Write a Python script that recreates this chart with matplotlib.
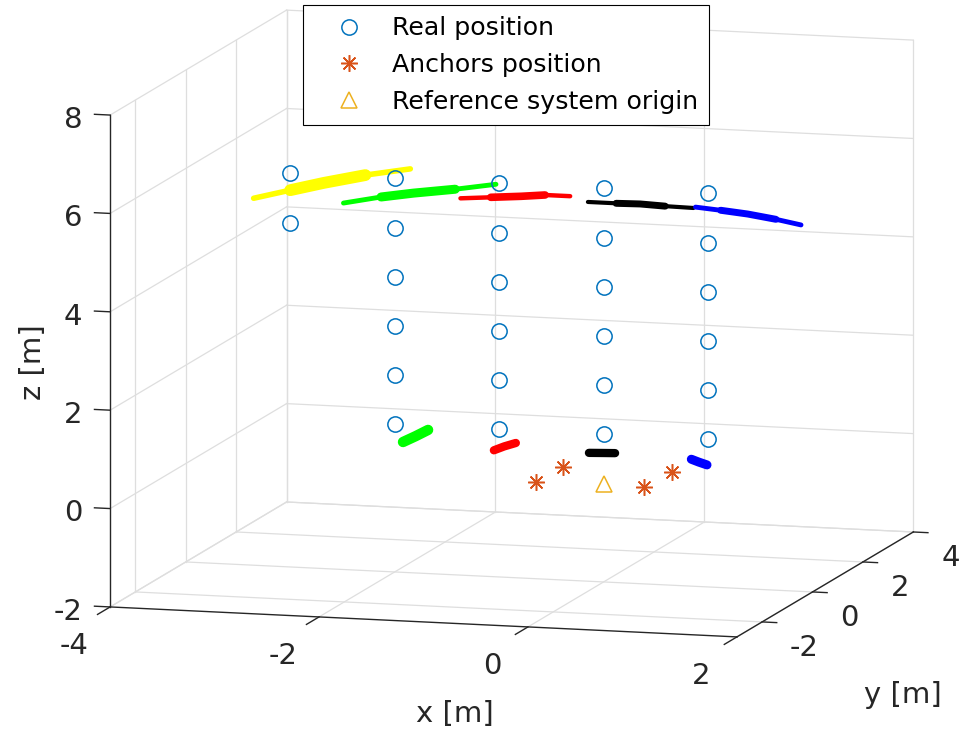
import matplotlib
matplotlib.use("Agg")
import matplotlib.pyplot as plt
import numpy as np
from matplotlib.lines import Line2D

plt.rcParams["font.family"] = ["DejaVu Sans"]

# ---------------------------------------------------------------------------
# Data (metres)
# ---------------------------------------------------------------------------
x_lim = (-4, 2)
y_lim = (-3, 4)
z_lim = (-2, 8)
x_ticks = [-4, -2, 0, 2]
y_ticks = [-2, 0, 2, 4]
z_ticks = [-2, 0, 2, 4, 6, 8]

# real (reference) tag positions, all in the plane y = 0
real_x = [-3, -3,
          -2, -2, -2, -2, -2, -2,
          -1, -1, -1, -1, -1, -1,
          0, 0, 0, 0, 0, 0,
          1, 1, 1, 1, 1, 1]
real_y = [0] * 26
real_z = [5, 6,
          1, 2, 3, 4, 5, 6,
          1, 2, 3, 4, 5, 6,
          1, 2, 3, 4, 5, 6,
          1, 2, 3, 4, 5, 6]

anchor_x = [-0.62, -0.61, 0.41, 0.44]
anchor_y = [-0.11, 0.90, -0.10, 0.91]
anchor_z = [0.0, 0.0, 0.0, 0.0]

origin_x = [0.0]
origin_y = [0.0]
origin_z = [0.0]

# estimated tracks (centre line of each cloud, plane y = 0)
yellow_top_x = [-3.35, -3.00, -2.68, -2.28, -1.85]
yellow_top_z = [5.46, 5.66, 5.84, 6.04, 6.21]
green_top_x = [-2.49, -2.13, -1.82, -1.42, -1.03]
green_top_z = [5.45, 5.61, 5.72, 5.84, 5.98]
red_top_x = [-1.37, -1.08, -0.79, -0.56, -0.32]
red_top_z = [5.66, 5.71, 5.76, 5.81, 5.81]
black_top_x = [-0.15, 0.12, 0.35, 0.59, 0.86]
black_top_z = [5.71, 5.71, 5.72, 5.70, 5.69]
blue_top_x = [0.88, 1.12, 1.38, 1.65, 1.89]
blue_top_z = [5.71, 5.67, 5.62, 5.54, 5.45]

green_low_x = [-1.92, -1.80, -1.68]
green_low_z = [0.65, 0.78, 0.92]
red_low_x = [-1.05, -0.95, -0.84]
red_low_z = [0.57, 0.66, 0.74]
black_low_x = [-0.14, -0.02, 0.11]
black_low_z = [0.61, 0.62, 0.63]
blue_low_x = [0.84, 0.91, 0.99]
blue_low_z = [0.58, 0.53, 0.48]

# ---------------------------------------------------------------------------
# Style
# ---------------------------------------------------------------------------
W, H = 959, 733
GRID = "#DEDEDE"
AXC = "#262626"
C_REAL = "#0072BD"
C_ANCH = "#D95319"
C_ORIG = "#EDB120"
TICK_FS = 21
LABEL_FS = 21
LEG_FS = 18.2

fig = plt.figure(figsize=(W / 100, H / 100), dpi=100)
ax = fig.add_axes([0, 0, 1, 1], projection="3d", proj_type="ortho",
                  computed_zorder=False)
ax.set_xlim(*x_lim)
ax.set_ylim(*y_lim)
ax.set_zlim(*z_lim)
ax.set_box_aspect((651.7, 646.9, 499.2))
ax.view_init(elev=9.71, azim=-74.17)
ax.set_axis_off()

x0, x1 = x_lim
y0, y1 = y_lim
z0, z1 = z_lim

# grid on the three back panes
for xv in x_ticks:
    ax.plot([xv, xv], [y1, y1], [z0, z1], color=GRID, lw=0.9, zorder=1)
    ax.plot([xv, xv], [y0, y1], [z0, z0], color=GRID, lw=0.9, zorder=1)
for yv in y_ticks:
    ax.plot([x0, x0], [yv, yv], [z0, z1], color=GRID, lw=0.9, zorder=1)
    ax.plot([x0, x1], [yv, yv], [z0, z0], color=GRID, lw=0.9, zorder=1)
for zv in z_ticks:
    ax.plot([x0, x1], [y1, y1], [zv, zv], color=GRID, lw=0.9, zorder=1)
    ax.plot([x0, x0], [y0, y1], [zv, zv], color=GRID, lw=0.9, zorder=1)

# axis lines and ticks; labels are anchored in data space and placed later
labels = []
ax.plot([x0, x1], [y0, y0], [z0, z0], color=AXC, lw=1.0, zorder=2)
ax.plot([x1, x1], [y0, y1], [z0, z0], color=AXC, lw=1.0, zorder=2)
ax.plot([x0, x0], [y0, y0], [z0, z1], color=AXC, lw=1.0, zorder=2)
for xv in x_ticks:
    ax.plot([xv, xv], [y0, y0 - 0.5], [z0, z0], color=AXC, lw=1.0, zorder=2)
    labels.append(((xv, y0 - 1.43, z0 - 0.52), f"{xv}",
                   dict(ha="center", va="baseline", fontsize=TICK_FS)))
for yv in y_ticks:
    ax.plot([x1, x1 + 0.14], [yv, yv], [z0, z0], color=AXC, lw=1.0, zorder=2)
    labels.append(((x1 + 0.268, yv, z0 - 0.664), f"{yv}",
                   dict(ha="left", va="baseline", fontsize=TICK_FS)))
for zv in z_ticks:
    ax.plot([x0, x0 - 0.15], [y0, y0], [zv, zv], color=AXC, lw=1.0, zorder=2)
    labels.append(((x0 - 0.268, y0, zv - 0.29), f"{zv}",
                   dict(ha="right", va="baseline", fontsize=TICK_FS)))

labels.append(((-0.22, -5.0, -3.34), "x [m]",
               dict(ha="center", va="baseline", fontsize=LABEL_FS)))
labels.append(((2.6, 1.1, -4.53), "y [m]",
               dict(ha="center", va="baseline", fontsize=LABEL_FS)))
labels.append(((-4.74, -3.0, 2.90), "z [m]",
               dict(ha="center", va="center", rotation=90, fontsize=LABEL_FS)))

# estimated tracks: thin full trace plus thicker core
tracks_top = [
    (yellow_top_x, yellow_top_z, "#FFFF00", 4.0, 8.5),
    (green_top_x, green_top_z, "#00FF00", 3.5, 6.5),
    (red_top_x, red_top_z, "#FF0000", 3.2, 5.5),
    (black_top_x, black_top_z, "#000000", 3.0, 5.0),
    (blue_top_x, blue_top_z, "#0000FF", 3.5, 5.0),
]
for tx, tz, col, lw_thin, lw_core in tracks_top:
    ty = [0.0] * len(tx)
    ax.plot(tx, ty, tz, color=col, lw=lw_thin, solid_capstyle="round", zorder=3)
    ax.plot(tx[1:-1], ty[1:-1], tz[1:-1], color=col, lw=lw_core,
            solid_capstyle="round", zorder=3)

tracks_low = [
    (green_low_x, green_low_z, "#00FF00", 7.5),
    (red_low_x, red_low_z, "#FF0000", 6.0),
    (black_low_x, black_low_z, "#000000", 6.0),
    (blue_low_x, blue_low_z, "#0000FF", 6.5),
]
for tx, tz, col, lw in tracks_low:
    ty = [0.0] * len(tx)
    ax.plot(tx, ty, tz, color=col, lw=lw, solid_capstyle="round", zorder=3)

# markers
ax.plot(real_x, real_y, real_z, ls="none", marker="o", ms=11, mfc="none",
        mec=C_REAL, mew=1.1, zorder=4)
ax.plot(anchor_x, anchor_y, anchor_z, ls="none", marker=(8, 2, 0), ms=12,
        mec=C_ANCH, mew=1.1, zorder=4)
ax.plot(origin_x, origin_y, origin_z, ls="none", marker="^", ms=12,
        mfc="none", mec=C_ORIG, mew=1.1, zorder=4)

handles = [
    Line2D([], [], ls="none", marker="o", ms=11, mfc="none", mec=C_REAL, mew=1.1),
    Line2D([], [], ls="none", marker=(8, 2, 0), ms=12, mec=C_ANCH, mew=1.1),
    Line2D([], [], ls="none", marker="^", ms=12, mfc="none", mec=C_ORIG, mew=1.1),
]
leg = fig.legend(handles, ["Real position", "Anchors position",
                           "Reference system origin"],
                 loc="upper left", bbox_to_anchor=(303 / W, 1 - 5 / H),
                 borderaxespad=0, fontsize=LEG_FS, frameon=True, fancybox=False,
                 framealpha=1, edgecolor="#000000", handlelength=2.7,
                 handletextpad=0.36, labelspacing=0.5, borderpad=0.45)
leg.get_frame().set_linewidth(0.8)

# fit the projected box onto the frame of the original figure
fig.canvas.draw()
M = ax.get_proj()


def project(pts):
    pts = np.asarray(pts, dtype=float)
    vec = M @ np.vstack([pts.T, np.ones(len(pts))])
    return ax.transData.transform(np.column_stack([vec[0] / vec[3],
                                                   vec[1] / vec[3]]))


box_pts = [[x0, y0, z0], [x1, y0, z0], [x1, y1, z0], [x0, y0, z1], [x0, y1, z1]]
box_px = np.array([[110, 607], [737, 637], [913, 532], [110, 115], [287, 10]],
                  dtype=float)
cur = project(box_pts)
bb = ax.bbox
c0 = np.array([(bb.x0 + bb.x1) / 2, (bb.y0 + bb.y1) / 2])
f = (cur - c0) / bb.width
tgt = box_px.copy()
tgt[:, 1] = H - tgt[:, 1]
fm, tm = f.mean(axis=0), tgt.mean(axis=0)
L = ((f - fm) * (tgt - tm)).sum() / ((f - fm) ** 2).sum()
c = tm - L * fm
ax.set_position([(c[0] - L / 2) / W, (c[1] - L / 2) / H, L / W, L / H])
fig.canvas.draw()

# place tick and axis labels at their projected anchors
for pos, txt, kw in labels:
    px, py = project([pos])[0]
    fig.text(px / W, py / H, txt, color=AXC, **kw)

fig.savefig("out.png", dpi=100)
